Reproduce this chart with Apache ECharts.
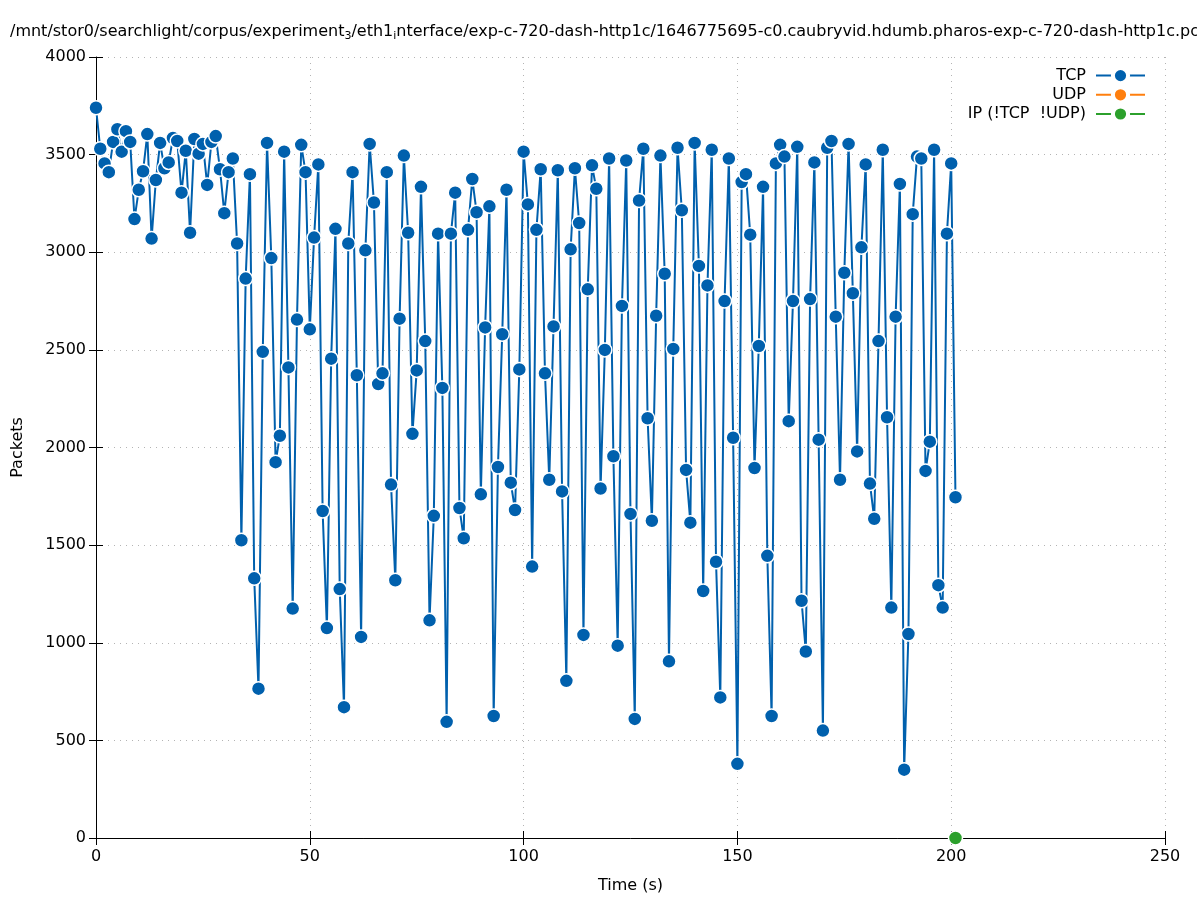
<!DOCTYPE html>
<html>
<head>
<meta charset="utf-8">
<script src="https://cdn.jsdelivr.net/npm/echarts@6/dist/echarts.min.js"></script>
<style>html,body{margin:0;padding:0;background:#fff;}#c{width:1197px;height:900px;}</style>
</head>
<body>
<div id="c"></div>
<script>
var times = [0,1,2,3,4,5,6,7,8,9,10,11,12,13,14,15,16,17,18,19,20,21,22,23,24,25,26,27,28,29,30,31,32,33,34,35,36,37,38,39,40,41,42,43,44,45,46,47,48,49,50,51,52,53,54,55,56,57,58,59,60,61,62,63,64,65,66,67,68,69,70,71,72,73,74,75,76,77,78,79,80,81,82,83,84,85,86,87,88,89,90,91,92,93,94,95,96,97,98,99,100,101,102,103,104,105,106,107,108,109,110,111,112,113,114,115,116,117,118,119,120,121,122,123,124,125,126,127,128,129,130,131,132,133,134,135,136,137,138,139,140,141,142,143,144,145,146,147,148,149,150,151,152,153,154,155,156,157,158,159,160,161,162,163,164,165,166,167,168,169,170,171,172,173,174,175,176,177,178,179,180,181,182,183,184,185,186,187,188,189,190,191,192,193,194,195,196,197,198,199,200,201];
var tcpPackets = [3740,3530,3455,3410,3565,3630,3515,3620,3565,3170,
3320,3415,3605,3070,3370,3560,3430,3460,3585,3570,
3305,3520,3100,3580,3505,3555,3345,3565,3595,3425,
3200,3410,3480,3045,1525,2865,3400,1330,765,2490,
3560,2970,1925,2060,3515,2410,1175,2655,3550,3410,
2605,3075,3450,1675,1075,2455,3120,1275,670,3045,
3410,2370,1030,3010,3555,3255,2325,2380,3410,1810,
1320,2660,3495,3100,2070,2395,3335,2545,1115,1650,
3095,2305,595,3095,3305,1690,1535,3115,3375,3205,
1760,2615,3235,625,1900,2580,3320,1820,1680,2400,
3515,3245,1390,3115,3425,2380,1835,2620,3420,1775,
805,3015,3430,3150,1040,2810,3445,3325,1790,2500,
3480,1955,985,2725,3470,1660,610,3265,3530,2150,
1625,2675,3495,2890,905,2505,3535,3215,1885,1615,
3560,2930,1265,2830,3525,1415,720,2750,3480,2050,
380,3360,3400,3090,1895,2520,3335,1445,625,3455,
3550,3490,2135,2750,3540,1215,955,2760,3460,2040,
550,3535,3570,2670,1835,2895,3555,2790,1980,3025,
3450,1815,1635,2545,3525,2155,1180,2670,3350,350,
1045,3195,3490,3480,1880,2030,3525,1295,1180,3095,
3455,1745];
var udpTimes = [];
var udpPackets = [];
var ipTimes = [201];
var ipPackets = [0];
var xTicks = {min: 0, max: 250, step: 50};
var yTicks = {min: 0, max: 4000, step: 500};

function pairs(t, v) { return t.map(function (x, i) { return [x, v[i]]; }); }

var FONT = 'DejaVu Sans';
var chart = echarts.init(document.getElementById('c'), null, {renderer: 'canvas'});
var tickStyle = {show: true, inside: true, length: 7, lineStyle: {color: '#000', width: 1}};
var grid = {type: [1, 5], color: '#b4b4b4', width: 1};
function sym(color) {
  return {type: 'line', symbol: 'circle', symbolSize: 14, showSymbol: true,
    lineStyle: {color: color, width: 2}, itemStyle: {color: color, borderColor: '#fff', borderWidth: 1.5},
    emphasis: {disabled: true}, animation: false};
}
var s1 = sym('#0060ad'); s1.name = 'TCP'; s1.data = pairs(times, tcpPackets); s1.z = 3;
var s2 = sym('#ff7f0e'); s2.name = 'UDP'; s2.data = pairs(udpTimes, udpPackets); s2.z = 2;
var s3 = sym('#2ca02c'); s3.name = 'IP (!TCP  !UDP)'; s3.data = pairs(ipTimes, ipPackets); s3.z = 4;

chart.setOption({
  backgroundColor: '#fff',
  animation: false,
  textStyle: {fontFamily: FONT, color: '#000'},
  title: {
    text: '/mnt/stor0/searchlight/corpus/experiment{sub|3}/eth1{sub|i}nterface/exp-c-720-dash-http1c/1646775695-c0.caubryvid.hdumb.pharos-exp-c-720-dash-http1c.pcap',
    left: 10, top: 22, padding: 0,
    textStyle: {fontFamily: FONT, fontSize: 16, fontWeight: 'normal', color: '#000',
      rich: {sub: {fontFamily: FONT, fontSize: 11, color: '#000', padding: [9, 0, 0, 0]}}}
  },
  legend: {
    right: 51, top: 66, orient: 'vertical', align: 'right', padding: 0,
    itemWidth: 49, itemHeight: 19, itemGap: 0,
    itemStyle: {borderColor: '#fff', borderWidth: 4},
    textStyle: {fontFamily: FONT, fontSize: 16, color: '#000', padding: [0, 5, 0, 0]},
    data: ['TCP', 'UDP', 'IP (!TCP  !UDP)'],
    selectedMode: false
  },
  grid: {left: 96, right: 32, top: 57, bottom: 62, containLabel: false},
  xAxis: [{
    type: 'value', min: xTicks.min, max: xTicks.max, interval: xTicks.step, position: 'bottom',
    name: 'Time (s)', nameLocation: 'middle', nameGap: 40,
    nameTextStyle: {fontFamily: FONT, fontSize: 16, color: '#000'},
    axisLine: {show: true, lineStyle: {color: '#000', width: 1}},
    axisTick: tickStyle,
    axisLabel: {fontFamily: FONT, fontSize: 16, color: '#000', margin: 11, formatter: function (v) { return String(v); }},
    splitLine: {show: true, lineStyle: grid}
  }, {
    type: 'value', min: xTicks.min, max: xTicks.max, interval: xTicks.step, position: 'top',
    axisLine: {show: false}, axisTick: tickStyle, axisLabel: {show: false}, splitLine: {show: false}
  }],
  yAxis: [{
    type: 'value', min: yTicks.min, max: yTicks.max, interval: yTicks.step, position: 'left',
    name: 'Packets', nameLocation: 'middle', nameGap: 70, nameRotate: 90,
    nameTextStyle: {fontFamily: FONT, fontSize: 16, color: '#000'},
    axisLine: {show: true, lineStyle: {color: '#000', width: 1}},
    axisTick: tickStyle,
    axisLabel: {fontFamily: FONT, fontSize: 16, color: '#000', margin: 10, formatter: function (v) { return String(v); }},
    splitLine: {show: true, lineStyle: grid}
  }, {
    type: 'value', min: yTicks.min, max: yTicks.max, interval: yTicks.step, position: 'right',
    axisLine: {show: false}, axisTick: tickStyle, axisLabel: {show: false}, splitLine: {show: false}
  }],
  series: [s1, s2, s3]
});
</script>
</body>
</html>
